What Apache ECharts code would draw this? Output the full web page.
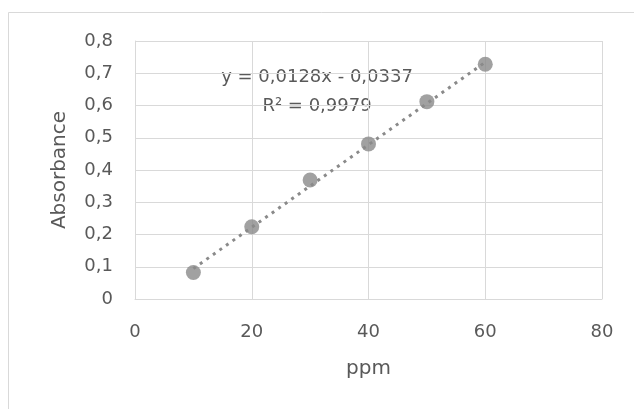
<!DOCTYPE html>
<html>
<head>
<meta charset="utf-8">
<script src="https://cdn.jsdelivr.net/npm/echarts@6/dist/echarts.min.js"></script>
<style>
  html, body { margin: 0; padding: 0; background: #fff; }
  #chart { width: 634px; height: 409px; }
</style>
</head>
<body>
<div id="chart"></div>
<script>
// ppm vs absorbance
var ppm = [10, 20, 30, 40, 50, 60]
var absorbance = [0.082, 0.224, 0.369, 0.481, 0.612, 0.728]
// linear trendline as printed on the chart
var slope = 0.0128
var intercept = -0.0337
var eqText = 'y = 0,0128x - 0,0337'
var r2Text = 'R² = 0,9979'

var font = 'DejaVu Sans'
var textColor = '#595959'
var gridColor = '#d9d9d9'
var markColor = '#8a8a8a'

function comma(v) {
  return String(v).replace('.', ',')
}

var points = ppm.map(function (x, i) { return [x, absorbance[i]] })
var xFirst = ppm[0]
var xLast = ppm[ppm.length - 1]
var trend = [
  [xFirst, slope * xFirst + intercept],
  [xLast, slope * xLast + intercept]
]

var chart = echarts.init(document.getElementById('chart'))
var option = {
  animation: false,
  backgroundColor: '#fff',
  grid: { left: 135, right: 32, top: 41, bottom: 110 },
  graphic: [
    {
      type: 'rect',
      shape: { x: 8.5, y: 12.5, width: 700, height: 500 },
      style: { fill: 'none', stroke: gridColor, lineWidth: 1 },
      silent: true
    },
    {
      type: 'text',
      x: 317, y: 77,
      style: { text: eqText, font: '18px "' + font + '"', fill: textColor, align: 'center', verticalAlign: 'middle' }
    },
    {
      type: 'text',
      x: 317, y: 106,
      style: { text: r2Text, font: '18px "' + font + '"', fill: textColor, align: 'center', verticalAlign: 'middle' }
    }
  ],
  xAxis: {
    type: 'value',
    min: 0,
    max: 80,
    interval: 20,
    name: 'ppm',
    nameLocation: 'middle',
    nameGap: 60,
    nameTextStyle: { color: textColor, fontFamily: font, fontSize: 20 },
    axisLine: { show: true, lineStyle: { color: gridColor, width: 1 } },
    axisTick: { show: false },
    axisLabel: { color: textColor, fontFamily: font, fontSize: 18, margin: 24, formatter: comma },
    splitLine: { show: true, lineStyle: { color: gridColor, width: 1 } }
  },
  yAxis: {
    type: 'value',
    min: 0,
    max: 0.8,
    interval: 0.1,
    name: 'Absorbance',
    nameLocation: 'middle',
    nameGap: 65,
    nameTextStyle: { color: textColor, fontFamily: font, fontSize: 20 },
    axisLine: { show: true, lineStyle: { color: gridColor, width: 1 } },
    axisTick: { show: false },
    axisLabel: {
      color: textColor, fontFamily: font, fontSize: 18, margin: 22,
      formatter: function (v) { return comma(Math.round(v * 10) / 10) }
    },
    splitLine: { show: true, lineStyle: { color: gridColor, width: 1 } }
  },
  series: [
    {
      name: 'trend',
      type: 'line',
      data: trend,
      symbol: 'none',
      lineStyle: { color: markColor, width: 3, type: [3, 5] },
      z: 2
    },
    {
      name: 'Absorbance',
      type: 'scatter',
      data: points,
      symbolSize: 15,
      itemStyle: { color: markColor },
      z: 3
    }
  ]
}
chart.setOption(option)
</script>
</body>
</html>
